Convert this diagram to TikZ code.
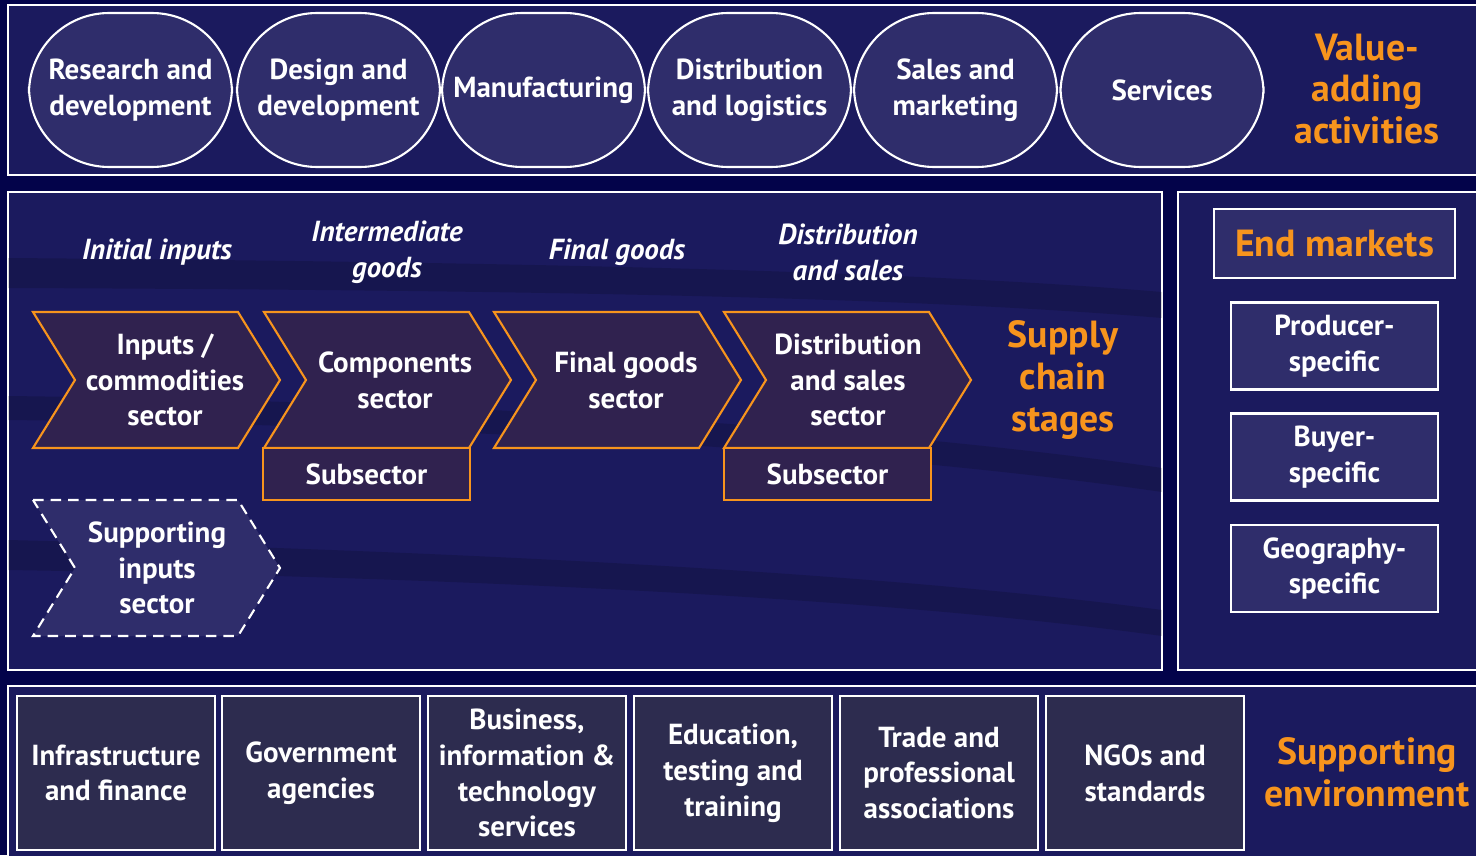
\documentclass[tikz,border=0pt]{standalone}
\usepackage{fontspec}
\setmainfont{PT Sans}
\usetikzlibrary{positioning}

\definecolor{pagebg}{HTML}{03034A}
\definecolor{panelbg}{HTML}{1B1A5E}
\definecolor{ovalbg}{HTML}{2F2D6B}
\definecolor{chevbg}{HTML}{30224F}
\definecolor{orng}{HTML}{F7941D}
\definecolor{envbg}{HTML}{2D2C4F}

\tikzset{
  panel/.style={draw=white, line width=1.2pt, fill=panelbg},
  body/.style={text=white, align=center, font=\bfseries\fontsize{16.5}{20.4}\selectfont},
  heading/.style={text=orng, align=center, font=\bfseries\fontsize{21.5}{23.8}\selectfont},
  stagelabel/.style={text=white, align=center, font=\bfseries\itshape\fontsize{16.5}{20.4}\selectfont},
  activity/.style={body, draw=white, line width=1.2pt, fill=ovalbg, rounded corners=1.6cm,
    minimum width=4.06cm, minimum height=3.08cm, inner sep=0pt},
  stage/.style={draw=orng, line width=1.2pt, fill=chevbg},
  support/.style={draw=white, line width=1.2pt, dash pattern=on 6pt off 4pt, fill=ovalbg},
  market/.style={body, draw=white, line width=1.2pt, fill=ovalbg, minimum width=4.14cm,
    minimum height=1.74cm, inner sep=0pt},
  envbox/.style={body, draw=white, line width=1.2pt, fill=envbg, minimum width=3.96cm,
    minimum height=3.08cm, inner sep=0pt},
}

\begin{document}
\begin{tikzpicture}[x=0.02cm, y=-0.02cm]

\fill[pagebg] (0,0) rectangle (1476,855);
\useasboundingbox (0,0) rectangle (1476,855);

\draw[panel] (8,5) rectangle (1490,175);
\draw[panel] (8,192) rectangle (1162,670);
\draw[panel] (1178,192) rectangle (1490,670);
\draw[panel] (8,686) rectangle (1490,870);

\fill[black, opacity=0.15] (8,258) .. controls (500,262) and (900,270) .. (1162,292)
  -- (1162,318) .. controls (900,296) and (500,290) .. (8,288) -- cycle;
\fill[black, opacity=0.15] (8,396) .. controls (500,402) and (900,430) .. (1162,468)
  -- (1162,492) .. controls (900,454) and (500,426) .. (8,420) -- cycle;
\fill[black, opacity=0.15] (8,540) .. controls (500,552) and (900,575) .. (1162,610)
  -- (1162,636) .. controls (900,600) and (500,578) .. (8,570) -- cycle;

\node[activity] (rd) at (130.5,90) {Research and\\development};
\node[activity] (dd) at (338.5,90) {Design and\\development};
\node[activity] (mf) at (543.5,90) {Manufacturing};
\node[activity] (dl) at (749.5,90) {Distribution\\and logistics};
\node[activity] (sm) at (955.5,90) {Sales and\\marketing};
\node[activity] (sv) at (1162,90) {Services};
\node[heading] (va) at (1367,89) {Value-\\adding\\activities};

\node[stagelabel] (ii) at (157,252) {Initial inputs};
\node[stagelabel] (ig) at (387,252) {Intermediate\\goods};
\node[stagelabel] (fg) at (617,252) {Final goods};
\node[stagelabel] (ds) at (848,252) {Distribution\\and sales};

\foreach \x/\c/\n/\t in {33/132/inp/{Inputs /\\commodities\\sector}, 264/131/cmp/{Components\\sector},
    494/132/fin/{Final goods\\sector}, 724/124/dst/{Distribution\\and sales\\sector}}{
  \draw[stage] (\x,312) -- ++(205,0) -- ++(42,68) -- ++(-42,68) -- ++(-205,0) -- ++(42,-68) -- cycle;
  \node[body] (\n) at (\x+\c,380) {\t};
}
\node[body, draw=orng, line width=1.2pt, fill=chevbg, minimum width=4.14cm, minimum height=1.04cm]
  (sub1) at (366.5,474) {Subsector};
\node[body, draw=orng, line width=1.2pt, fill=chevbg, minimum width=4.14cm, minimum height=1.04cm]
  (sub2) at (827.5,474) {Subsector};

\draw[support] (33,500) -- ++(205,0) -- ++(42,68) -- ++(-42,68) -- ++(-205,0) -- ++(42,-68) -- cycle;
\node[body] (sup) at (157,568) {Supporting\\inputs\\sector};

\node[heading] (scs) at (1063,380) {Supply\\chain\\stages};

\node[heading, draw=white, line width=1.2pt, fill=ovalbg, minimum width=4.82cm, minimum height=1.38cm]
  (em) at (1334.5,243.5) {End markets};
\node[market] (ps) at (1334.5,346) {Producer-\\specific};
\node[market] (bs) at (1334.5,457) {Buyer-\\specific};
\node[market] (gs) at (1334.5,568.5) {Geography-\\specific};

\node[envbox] (inf) at (116,773) {Infrastructure\\and finance};
\node[envbox] (gov) at (321,773) {Government\\agencies};
\node[envbox] (bus) at (527,773) {Business,\\information \&\\technology\\services};
\node[envbox] (edu) at (733,773) {Education,\\testing and\\training};
\node[envbox] (trd) at (939,773) {Trade and\\professional\\associations};
\node[envbox] (ngo) at (1145,773) {NGOs and\\standards};
\node[heading] (se) at (1367,772) {Supporting\\environment};

\end{tikzpicture}
\end{document}
